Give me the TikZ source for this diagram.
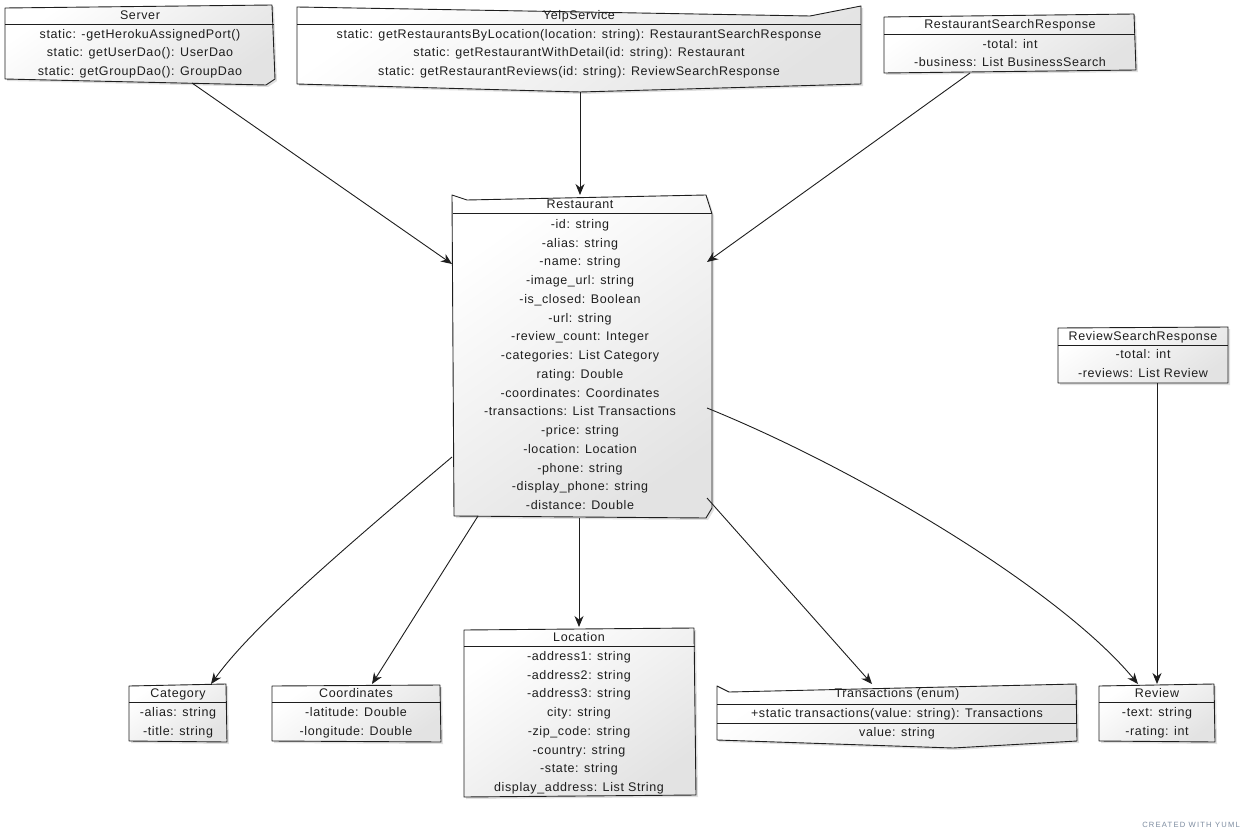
\documentclass[tikz,border=0pt]{standalone}
\usepackage{fontspec}
\setmainfont{Liberation Sans}
\usetikzlibrary{arrows.meta,shadows,calc}
\definecolor{wmcol}{RGB}{125,140,160}
\definecolor{ink}{RGB}{30,30,30}
\newcommand\rowsat[4]{%
  \foreach \t [count=\i from 0] in {#4} {\node[txt] (#1-\i) at (#2,{#3+18.75*\i+4.3}) {\t};}}
\begin{document}
\begin{tikzpicture}[x=1pt,y=-1pt,
  anchorbox/.style={draw=none,fill=none,inner sep=0pt,outer sep=0pt},
  classbox/.style={draw=ink,line width=0.9pt,line join=round,top color=white,bottom color=black!11,shading angle=35,
    drop shadow={shadow xshift=2pt,shadow yshift=-2pt,opacity=0.2,fill=black!60}},
  sep/.style={draw=ink,line width=0.9pt},
  txt/.style={font=\fontsize{12.5}{14}\selectfont\addfontfeature{LetterSpace=5},text=ink,inner sep=0pt,anchor=base},
  conn/.style={draw=ink,line width=0.9pt,-{Stealth[length=11pt,width=9pt,inset=3.5pt]}},
]
\path[use as bounding box,fill=white] (0,0) rectangle (1260,840);

% ---------- Server
\node[anchorbox,minimum width=271pt,minimum height=81pt] (server) at (140.5,45.5) {};
\path[classbox] (5,8) -- (272,5) -- (275,79) -- (266,85) -- (5,79) -- cycle;
\draw[sep] (5,24) -- (274,24);
\node[txt] (server-t) at (140,19.3) {Server};
\rowsat{server}{140}{33.75}{{static: -getHerokuAssignedPort()},{static: getUserDao(): UserDao},{static: getGroupDao(): GroupDao}}

% ---------- YelpService
\node[anchorbox,minimum width=564pt,minimum height=86pt] (yelp) at (579,49) {};
\path[classbox] (297,7) -- (810,16) -- (861,6) -- (861,84) -- (580,92) -- (297,84) -- cycle;
\draw[sep] (297,24) -- (861,24);
\node[txt] (yelp-t) at (579,19.3) {YelpService};
\rowsat{yelp}{579}{33.75}{{static: getRestaurantsByLocation(location: string): RestaurantSearchResponse},{static: getRestaurantWithDetail(id: string): Restaurant},{static: getRestaurantReviews(id: string): ReviewSearchResponse}}

% ---------- RestaurantSearchResponse
\node[anchorbox,minimum width=252pt,minimum height=59pt] (rsr) at (1010,43.5) {};
\path[classbox] (884,17) -- (1134,14) -- (1136,70) -- (884,73) -- cycle;
\draw[sep] (884,34) -- (1135,34);
\node[txt] (rsr-t) at (1010,28.3) {RestaurantSearchResponse};
\rowsat{rsr}{1010}{43.75}{{-total: int},{-business: List BusinessSearch}}

% ---------- Restaurant
\node[anchorbox,minimum width=260pt,minimum height=323pt] (restaurant) at (582,356.5) {};
\path[classbox] (452,195) -- (467,200) -- (706,195) -- (712,214) -- (712,508) -- (706,518) -- (454,516) -- cycle;
\draw[sep] (453,213) -- (712,213);
\node[txt] (restaurant-t) at (580,208.3) {Restaurant};
\rowsat{restaurant}{580}{224}{{-id: string},{-alias: string},{-name: string},{-image\_url: string},{-is\_closed: Boolean},{-url: string},{-review\_count: Integer},{-categories: List Category},{rating: Double},{-coordinates: Coordinates},{-transactions: List Transactions},{-price: string},{-location: Location},{-phone: string},{-display\_phone: string},{-distance: Double}}

% ---------- ReviewSearchResponse
\node[anchorbox,minimum width=170pt,minimum height=56pt] (rvsr) at (1143,355) {};
\path[classbox] (1058,328) -- (1228,327) -- (1228,383) -- (1058,383) -- cycle;
\draw[sep] (1058,345) -- (1228,345);
\node[txt] (rvsr-t) at (1143,340.3) {ReviewSearchResponse};
\rowsat{rvsr}{1143}{354.5}{{-total: int},{-reviews: List Review}}

% ---------- Category
\node[anchorbox,minimum width=98pt,minimum height=58pt] (category) at (178,713) {};
\path[classbox] (129,686) -- (226,684) -- (227,742) -- (129,741) -- cycle;
\draw[sep] (129,702) -- (226,702);
\node[txt] (category-t) at (178,697.3) {Category};
\rowsat{category}{178}{712.5}{{-alias: string},{-title: string}}

% ---------- Coordinates
\node[anchorbox,minimum width=169pt,minimum height=57pt] (coords) at (356.5,713.5) {};
\path[classbox] (272,686) -- (440,685) -- (441,742) -- (272,741) -- cycle;
\draw[sep] (272,702) -- (440,702);
\node[txt] (coords-t) at (356,697.3) {Coordinates};
\rowsat{coords}{356}{712.5}{{-latitude: Double},{-longitude: Double}}

% ---------- Location
\node[anchorbox,minimum width=232pt,minimum height=169pt] (location) at (580,712.5) {};
\path[classbox] (464,630) -- (694,628) -- (696,795) -- (464,797) -- cycle;
\draw[sep] (464,646) -- (695,646);
\node[txt] (location-t) at (579,641.3) {Location};
\rowsat{location}{579}{656}{{-address1: string},{-address2: string},{-address3: string},{city: string},{-zip\_code: string},{-country: string},{-state: string},{display\_address: List String}}

% ---------- Transactions (enum)
\node[anchorbox,minimum width=360pt,minimum height=64pt] (trans) at (897,716) {};
\path[classbox] (717,686) -- (729,692) -- (1076,684) -- (1077,741) -- (953,748) -- (717,740) -- cycle;
\draw[sep] (717,704) -- (1076,704);
\draw[sep] (717,723) -- (1077,723);
\node[txt] (trans-t) at (897,697.3) {Transactions (enum)};
\node[txt] (trans-0) at (897,717.3) {+static transactions(value: string): Transactions};
\node[txt] (trans-1) at (897,736.3) {value: string};

% ---------- Review
\node[anchorbox,minimum width=116pt,minimum height=58pt] (review) at (1157,713) {};
\path[classbox] (1099,686) -- (1214,684) -- (1215,742) -- (1099,741) -- cycle;
\draw[sep] (1099,702) -- (1214,702);
\node[txt] (review-t) at (1157,697.3) {Review};
\rowsat{review}{1157}{712.5}{{-text: string},{-rating: int}}

% ---------- connectors
\draw[conn] ($(server.north west)+(187,78)$) -- ($(restaurant.north west)+(0,69)$);
\draw[conn] ($(yelp.north west)+(283,86)$) -- ($(restaurant.north west)+(128,0)$);
\draw[conn] ($(rsr.north west)+(86,59)$) -- ($(restaurant.north west)+(255,67)$);
\draw[conn] ($(restaurant.north west)+(0,262)$) .. controls (330,560) and (250,630) .. ($(category.north west)+(82,0)$);
\draw[conn] ($(restaurant.north west)+(26,321)$) -- ($(coords.north west)+(100,-1)$);
\draw[conn] ($(restaurant.north west)+(127,323)$) -- ($(location.north west)+(115,-1)$);
\draw[conn] ($(restaurant.north west)+(255,303)$) -- ($(trans.north west)+(155,0)$);
\draw[conn] ($(restaurant.north west)+(255,213)$) .. controls (860,470) and (1060,590) .. ($(review.north west)+(39,0)$);
\draw[conn] ($(rvsr.north west)+(99,56)$) -- ($(review.north west)+(58,0)$);

% ---------- watermark
\node[font=\fontsize{7.6}{9}\selectfont\addfontfeature{LetterSpace=16},text=wmcol,inner sep=0pt] (wm) at (1191,825) {CREATED WITH YUML};
\end{tikzpicture}
\end{document}
